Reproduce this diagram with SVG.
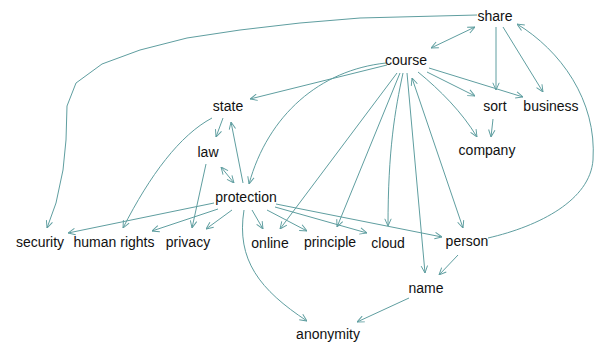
<svg xmlns="http://www.w3.org/2000/svg" width="597" height="345" viewBox="0 0 597 345">
  <style>
    .edge { fill: none; stroke: #5f9ea0; stroke-width: 1; marker-end: url(#ah); }
    .both { marker-start: url(#ah); }
    .plain { marker-end: none; }
    .node text { font-family: "Liberation Sans", Arial, sans-serif; font-size: 14px; fill: #111; text-anchor: middle; }
  </style>
  <defs>
    <marker id="ah" viewBox="0 0 10 10" refX="10" refY="5" markerWidth="8" markerHeight="8" markerUnits="userSpaceOnUse" orient="auto-start-reverse">
      <path d="M1,1 L10,5 L1,9" fill="none" stroke="#5f9ea0" stroke-width="1.2"/>
    </marker>
  </defs>
  <rect width="597" height="345" fill="#fff"/>

  <g id="connectors">
    <!-- share -->
    <path class="edge both" d="M475,27 L431,48"/>
    <path class="edge" d="M496,27 L496,90"/>
    <path class="edge" d="M503,27 L543,92"/>
    <path class="edge" d="M477,15 L360,18 L300,23 L240,30 L187,38 L140,50 L102,64 L76,83 L67,106 L66,140 L63,170 L56,203 L47,228"/>
    <path class="edge" d="M488,238 C540,226 590,200 593,160 C597,100 560,50 517,24"/>
    <!-- course -->
    <path class="edge" d="M387,65 L250,99"/>
    <path class="edge" d="M386,63 C320,70 268,115 249,184"/>
    <path class="edge" d="M397,73 L280,229"/>
    <path class="edge" d="M400,73 L337,227"/>
    <path class="edge" d="M403,73 C395,110 388,150 388,226"/>
    <path class="edge" d="M407,73 L425,273"/>
    <path class="edge both" d="M412,78 L463,228"/>
    <path class="edge" d="M418,72 C440,90 462,112 477,137"/>
    <path class="edge" d="M427,72 L475,96"/>
    <path class="edge" d="M429,68 L523,97"/>
    <!-- sort -->
    <path class="edge" d="M493,119 L491,137"/>
    <!-- state -->
    <path class="edge" d="M223,118 L216,137"/>
    <path class="edge" d="M212,118 C180,135 150,175 123,228"/>
    <!-- law -->
    <path class="edge both" d="M221,167 L234,183"/>
    <path class="edge" d="M206,164 L192,228"/>
    <!-- protection -->
    <path class="edge" d="M243,183 L231,122"/>
    <path class="edge" d="M214,203 L68,233"/>
    <path class="edge" d="M218,209 L152,231"/>
    <path class="edge" d="M232,210 L206,229"/>
    <path class="edge" d="M252,210 L263,229"/>
    <path class="edge" d="M267,210 L307,231"/>
    <path class="edge" d="M275,207 L367,233"/>
    <path class="edge" d="M276,204 L442,237"/>
    <path class="edge" d="M244,210 C236,260 260,290 307,321"/>
    <!-- person / name -->
    <path class="edge" d="M458,255 L439,275"/>
    <path class="edge" d="M409,298 L357,322"/>
  </g>

  <g id="share" class="node"><text x="495" y="21">share</text></g>
  <g id="course" class="node"><text x="406" y="65">course</text></g>
  <g id="sort" class="node"><text x="495" y="111">sort</text></g>
  <g id="business" class="node"><text x="551" y="111">business</text></g>
  <g id="company" class="node"><text x="487" y="155">company</text></g>
  <g id="state" class="node"><text x="228" y="111">state</text></g>
  <g id="law" class="node"><text x="208" y="157">law</text></g>
  <g id="protection" class="node"><text x="246" y="202">protection</text></g>
  <g id="security" class="node"><text x="40" y="247">security</text></g>
  <g id="human-rights" class="node"><text x="114" y="247">human rights</text></g>
  <g id="privacy" class="node"><text x="188" y="247">privacy</text></g>
  <g id="online" class="node"><text x="270" y="248">online</text></g>
  <g id="principle" class="node"><text x="330" y="247">principle</text></g>
  <g id="cloud" class="node"><text x="388" y="248">cloud</text></g>
  <g id="person" class="node"><text x="467" y="246">person</text></g>
  <g id="name" class="node"><text x="426" y="293">name</text></g>
  <g id="anonymity" class="node"><text x="328" y="339">anonymity</text></g>
</svg>
